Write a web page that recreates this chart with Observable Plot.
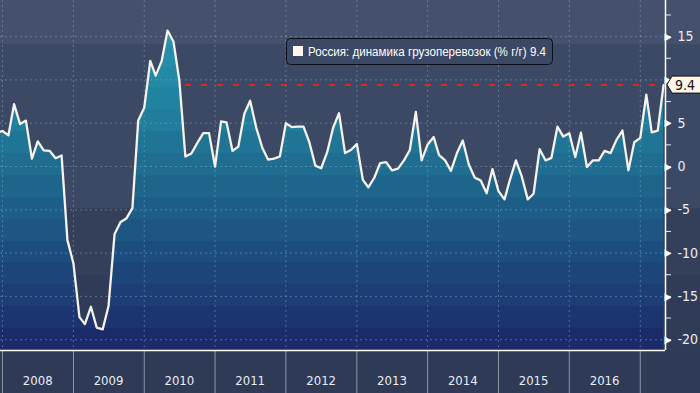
<!DOCTYPE html>
<html><head><meta charset="utf-8">
<script src="https://cdn.jsdelivr.net/npm/d3@7"></script>
<script src="https://cdn.jsdelivr.net/npm/@observablehq/plot@0.6"></script>
<style>
html,body{margin:0;padding:0;background:#2e3a56;}
#chart{width:700px;height:393px;overflow:hidden;}
</style></head><body><div id="chart"></div>
<script>
// ---- data ----
const seriesName = "Россия: динамика грузоперевозок (% г/г)";
const firstMonth = "2007-12-01";
const v2007 = [3.9];
const v2008 = [4.1, 3.6, 7.2, 4.9, 5.3, 0.9, 2.9, 1.85, 1.8, 0.96, 1.27, -8.5];
const v2009 = [-11.2, -17.4, -18.2, -16.2, -18.6, -18.8, -16.1, -7.8, -6.4, -6.0, -4.8, 5.3];
const v2010 = [6.8, 12.2, 10.5, 12.2, 15.7, 14.4, 9.9, 1.15, 1.5, 2.7, 3.85, 3.85];
const v2011 = [0.0, 5.2, 5.1, 1.8, 2.3, 6.1, 7.6, 4.5, 2.2, 0.8, 0.9, 1.15];
const v2012 = [5.0, 4.55, 4.6, 4.6, 2.8, 0.1, -0.2, 1.65, 4.5, 6.15, 1.55, 1.9];
const v2013 = [2.6, -1.55, -2.4, -1.3, 0.4, 0.5, -0.45, -0.25, 0.7, 1.9, 6.3, 0.7];
const v2014 = [2.55, 3.4, 1.3, 0.7, -0.5, 1.55, 3.0, 0.23, -1.3, -1.6, -3.1, -0.3];
const v2015 = [-2.85, -3.8, -1.55, 0.7, -1.15, -3.8, -3.15, 2.0, 0.7, 1.0, 4.6, 3.45];
const v2016 = [3.85, 1.1, 3.9, -0.07, 0.7, 0.7, 1.8, 1.55, 3.1, 4.15, -0.45, 2.8];
const v2017 = [3.3, 8.3, 3.95, 4.15, 9.4];
const yearLabels = ["2008","2009","2010","2011","2012","2013","2014","2015","2016"];
const yTickValues = [-20, -15, -10, -5, 0, 5, 10, 15];
const refLineStart = "2010-08-01";

// ---- build ----
const values = [].concat(v2007, v2008, v2009, v2010, v2011, v2012, v2013, v2014, v2015, v2016, v2017);
const start = new Date(firstMonth);
const data = values.map((v, i) => ({date: d3.utcMonth.offset(start, i), value: v}));
const last = data[data.length - 1];
const xDomain = [new Date("2007-12-22"), new Date("2017-05-11")];
const yDomain = [-21.25, 19.17];
const yearStarts = d3.range(2008, 2018).map(y => new Date(Date.UTC(y, 0, 1)));
const yearMids = yearLabels.map(y => ({date: new Date(Date.UTC(+y, 6, 1)), label: y}));
const allTicks = d3.range(-20, 17.6, 2.5);
const font = '"Liberation Sans Narrow","DejaVu Sans Condensed","Liberation Sans",sans-serif';
const gridStyle = {stroke: "#8db3d2", strokeOpacity: 0.45, strokeDasharray: "2,3", strokeWidth: 1};
const fillBands = ["#2b97b0","#2893ad","#268ea9","#2489a5","#2283a1","#217d9c","#207596","#1f6d91",
                   "#1e658c","#1e5d87","#1d5583","#1d4d7f","#1c457a","#1c3d75","#1c3570","#1b2b69"];
const bg = "linear-gradient(to bottom,#44506c 0px,#44506c 44px,#3c4964 44px,#3c4964 208px,#343f5a 208px,#343f5a 275px,#303c57 275px,#303c57 350px,#2e3a56 350px)";
// tick labels hidden behind the last-value box
const hiddenByBox = d => Math.abs(d - last.value) < 1.5;

const plot = Plot.plot({
  width: 700, height: 393,
  marginLeft: 0, marginRight: 35, marginTop: 0, marginBottom: 43,
  style: {background: bg, color: "#e9edf5", fontFamily: font, fontSize: "14px", overflow: "visible"},
  x: {type: "utc", domain: xDomain, ticks: yearStarts, tickSize: 43, tickFormat: () => "", label: null},
  y: {domain: yDomain, axis: "right", ticks: allTicks, tickSize: 5, tickPadding: 7,
      tickFormat: d => (d % 5 === 0 && !hiddenByBox(d) ? String(d) : ""), label: null},
  marks: [
    Plot.areaY(data, {x: "date", y1: yDomain[0], y2: "value", fill: "url(#fillGrad)", curve: "linear"}),
    Plot.ruleY(yTickValues, gridStyle),
    Plot.ruleX(yearStarts, gridStyle),
    Plot.lineY(data, {x: "date", y: "value", stroke: "#f6f2ec", strokeWidth: 2.3}),
    Plot.ruleY([last.value], {x1: new Date(refLineStart), x2: last.date, stroke: "#e3261d", strokeWidth: 2, strokeDasharray: "6,10"}),
    Plot.ruleY([yDomain[0]], {stroke: "#ffffff", strokeWidth: 1.5}),
    Plot.ruleX([xDomain[1]], {stroke: "#ffffff", strokeWidth: 1.5}),
    Plot.text(yTickValues, {y: d => d, frameAnchor: "right", text: () => "▶", textAnchor: "start", dx: -1, fill: "#ffffff", fontSize: 10}),
    Plot.text(yearMids, {x: "date", text: "label", frameAnchor: "bottom", dy: 34, fill: "#e9edf5", fontSize: 13})
  ]
});

const svg = d3.select(plot);
svg.selectAll('[aria-label^="x-axis"]').attr("color", "#8f98ab");
const ys = plot.scale("y");
const xs = plot.scale("x");
const yTop = Math.min(...ys.range), yBot = Math.max(...ys.range);
const defs = svg.insert("defs", ":first-child");
const grad = defs.append("linearGradient").attr("id", "fillGrad")
  .attr("gradientUnits", "userSpaceOnUse").attr("x1", 0).attr("x2", 0).attr("y1", yTop).attr("y2", yBot);
fillBands.forEach((c, i) => {
  grad.append("stop").attr("offset", i / fillBands.length).attr("stop-color", c);
  grad.append("stop").attr("offset", (i + 1) / fillBands.length).attr("stop-color", c);
});

// legend
const lg = svg.append("g").attr("text-anchor", "start");
lg.append("rect").attr("x", 286.5).attr("y", 38.5).attr("width", 266).attr("height", 26).attr("rx", 4)
  .attr("fill", "#3b4863").attr("stroke", "#0b0f18");
lg.append("rect").attr("x", 293).attr("y", 46).attr("width", 10).attr("height", 10).attr("fill", "#fff5f0");
lg.append("text").attr("x", 308).attr("y", 56).attr("fill", "#ffffff").attr("font-size", 12.5)
  .attr("text-anchor", "start")
  .attr("font-family", '"Liberation Sans","DejaVu Sans",sans-serif')
  .attr("textLength", 238).attr("lengthAdjust", "spacingAndGlyphs")
  .text(seriesName + " " + last.value);

// last value label on the axis
const yv = ys.apply(last.value);
const xr = Math.max(...xs.range);
const vg = svg.append("g").attr("text-anchor", "start");
vg.append("path").attr("d", `M${xr + 2},${yv} L${xr + 7},${yv - 8.5} L${xr + 40},${yv - 8.5} L${xr + 40},${yv + 8.5} L${xr + 7},${yv + 8.5} Z`)
  .attr("fill", "#fdf5ea").attr("stroke", "#111");
vg.append("text").attr("x", xr + 10).attr("y", yv + 5).attr("fill", "#111").attr("font-size", 14)
  .attr("text-anchor", "start")
  .attr("font-family", font).text(String(last.value));

document.getElementById("chart").appendChild(plot);
</script>
</body></html>
